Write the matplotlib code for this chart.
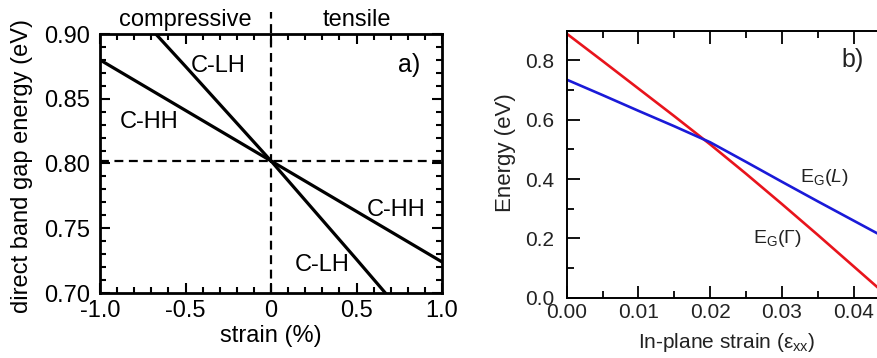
import matplotlib
matplotlib.use("Agg")
import matplotlib.pyplot as plt
from matplotlib.ticker import MultipleLocator

plt.rcParams['font.family'] = ['Liberation Sans', 'DejaVu Sans']
plt.rcParams['mathtext.fontset'] = 'custom'
plt.rcParams['mathtext.rm'] = 'Liberation Sans'
plt.rcParams['mathtext.it'] = 'Liberation Sans:italic'

# ---- panel a) data: direct band gap vs. strain ----
strain_pct = [-1.0, -0.5, 0.0, 0.5, 1.0]
c_hh = [0.880, 0.841, 0.802, 0.763, 0.724]
c_lh = [0.947, 0.875, 0.802, 0.726, 0.649]
zero_strain_gap = 0.802
a_xticks = [-1.0, -0.5, 0.0, 0.5, 1.0]
a_yticks = [0.70, 0.75, 0.80, 0.85, 0.90]

# ---- panel b) data: band gaps vs. in-plane strain ----
eps_xx = [0.0, 0.005, 0.01, 0.015, 0.02, 0.025, 0.03, 0.035, 0.04, 0.045]
eg_gamma = [0.890, 0.798, 0.705, 0.612, 0.517, 0.418, 0.316, 0.212, 0.106, 0.0]
eg_L = [0.735, 0.683, 0.630, 0.578, 0.524, 0.458, 0.391, 0.325, 0.260, 0.195]
b_xticks = [0.00, 0.01, 0.02, 0.03, 0.04]
b_yticks = [0.0, 0.2, 0.4, 0.6, 0.8]

fig = plt.figure(figsize=(8.77, 3.58), dpi=100)

# ================= panel a =================
axa = fig.add_axes([100 / 877, 1 - 293 / 358, 342 / 877, 259 / 358])
axa.plot(strain_pct, c_hh, color='black', lw=2.3)
axa.plot(strain_pct, c_lh, color='black', lw=2.3)
axa.axhline(zero_strain_gap, color='black', lw=1.6, dashes=(4, 2.5))
axa.axvline(0.0, ymin=0, ymax=1.085, color='black', lw=1.6, dashes=(4, 2.5),
            clip_on=False)
axa.set_xlim(-1.0, 1.0)
axa.set_ylim(0.70, 0.90)
axa.set_xticks(a_xticks)
axa.set_xticklabels(['-1.0', '-0.5', '0', '0.5', '1.0'])
axa.set_yticks(a_yticks)
axa.set_yticklabels([f'{v:.2f}' for v in a_yticks])
axa.xaxis.set_minor_locator(MultipleLocator(0.1))
axa.yaxis.set_minor_locator(MultipleLocator(0.01))
axa.tick_params(which='both', direction='in', top=True, right=True,
                width=1.5, color='black')
axa.tick_params(which='major', length=7)
axa.tick_params(which='minor', length=4)
axa.tick_params(axis='y', labelsize=17, pad=7)
axa.tick_params(axis='x', labelsize=17, pad=5)
for sp in axa.spines.values():
    sp.set_linewidth(2.0)
axa.set_xlabel('strain (%)', fontsize=17, labelpad=2)
fig.text(22 / 877, 1 - 166 / 358, 'direct band gap energy (eV)', rotation=90,
         ha='center', va='center', fontsize=17)

axa.text(-0.5, 1.054, 'compressive', transform=axa.get_xaxis_transform(),
         ha='center', va='center', fontsize=17)
axa.text(0.5, 1.054, 'tensile', transform=axa.get_xaxis_transform(),
         ha='center', va='center', fontsize=17)
axa.text(-0.470, 0.875, 'C-LH', ha='left', va='center', fontsize=17)
axa.text(-0.887, 0.832, 'C-HH', ha='left', va='center', fontsize=17)
axa.text(0.560, 0.764, 'C-HH', ha='left', va='center', fontsize=17)
axa.text(0.140, 0.722, 'C-LH', ha='left', va='center', fontsize=17)
axa.text(0.743, 0.876, 'a)', ha='left', va='center', fontsize=18)

# ================= panel b =================
txt = '#222222'
axb = fig.add_axes([566.7 / 877, 1 - 297.7 / 358, 358.5 / 877, 267 / 358])
axb.plot(eps_xx, eg_gamma, color='#e8141c', lw=1.9)
axb.plot(eps_xx, eg_L, color='#1a1ad8', lw=1.9)
axb.set_xlim(0.0, 0.05)
axb.set_ylim(0.0, 0.9)
axb.set_xticks(b_xticks)
axb.set_xticklabels([f'{v:.2f}' for v in b_xticks])
axb.set_yticks(b_yticks)
axb.set_yticklabels([f'{v:.1f}' for v in b_yticks])
axb.xaxis.set_minor_locator(MultipleLocator(0.005))
axb.yaxis.set_minor_locator(MultipleLocator(0.1))
axb.tick_params(which='both', direction='in', top=True, right=True,
                width=1.3, color='black', labelcolor=txt)
axb.tick_params(which='major', length=9)
axb.tick_params(which='minor', length=5)
axb.tick_params(axis='y', labelsize=15, pad=9)
axb.tick_params(axis='x', labelsize=15, pad=4)
for sp in axb.spines.values():
    sp.set_linewidth(1.4)
fig.text(505 / 877, 1 - 153 / 358, 'Energy (eV)', rotation=90, ha='center',
         va='center', fontsize=16, color=txt)
fig.text(727 / 877, 1 - 343 / 358, 'In-plane strain (ε$_\\mathregular{xx}$)',
         ha='center', va='center', fontsize=15, color=txt)

axb.text(0.03254, 0.389, r'E$_\mathregular{G}$($\mathit{L}$)', ha='left',
         va='baseline', fontsize=14, color=txt)
axb.text(0.0260, 0.183, r'E$_\mathregular{G}$($\Gamma$)', ha='left',
         va='baseline', fontsize=14, color=txt)
axb.text(0.03835, 0.80, 'b)', ha='left', va='center', fontsize=18, color=txt)

fig.savefig('out.png', dpi=100)
